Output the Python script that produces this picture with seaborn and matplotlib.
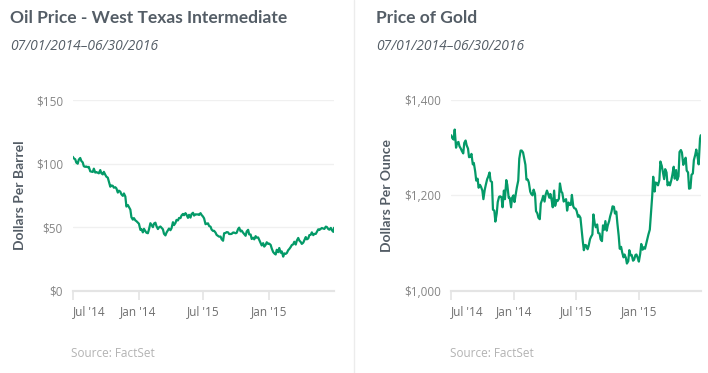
import pandas as pd
import seaborn as sns
import matplotlib.pyplot as plt
from matplotlib.lines import Line2D

# Friday closes plus first and last day of the window
fridays = pd.date_range('2014-07-04', '2016-06-24', freq='W-FRI')
fri_dates = [pd.Timestamp('2014-07-01')] + list(fridays) + [pd.Timestamp('2016-06-30')]
# Tuesday closes in between
tue_dates = list(pd.date_range('2014-07-08', '2016-06-28', freq='W-TUE'))

oil_fri = [
    105.4,
    104.1, 100.8, 103.1, 102.1,
    97.9, 97.7, 97.4, 93.7, 96.0,
    93.3, 92.3, 92.4, 93.5,
    89.7, 85.8, 82.8, 81.0, 80.5,
    78.7, 75.8, 76.5, 66.2,
    65.8, 57.8, 57.1, 54.7,
    52.7, 48.4, 48.7, 45.6, 48.2,
    51.7, 52.8, 50.8, 49.8,
    49.6, 44.8, 45.7, 48.9,
    49.1, 51.6, 55.7, 57.2,
    59.2, 59.4, 59.7, 59.7, 60.3,
    59.1, 60.0, 59.6, 59.6,
    56.9, 52.7, 50.9, 48.1, 47.1,
    43.9, 42.5, 40.5, 45.2,
    46.1, 44.6, 44.7, 45.7,
    45.5, 49.6, 47.3, 44.6, 46.6,
    44.3, 40.7, 40.4, 41.7,
    40.0, 35.6, 34.7, 38.1,
    37.0, 33.2, 29.4, 32.2, 33.6,
    30.9, 29.4, 29.6, 32.8,
    35.9, 38.5, 39.4, 39.5,
    36.8, 39.7, 40.4, 43.7, 45.9,
    44.7, 46.2, 47.8, 49.3,
    48.6, 50.1, 48.0, 47.6,
    49.5,
]

oil_tue = [
    103.4, 99.9, 104.4, 100.9,
    97.4, 97.1, 93.9, 93.4,
    92.9, 92.8, 94.9, 91.5,
    91.2, 88.9, 81.8, 82.5, 81.4,
    77.2, 77.9, 74.6, 74.1,
    67.4, 63.8, 55.9, 55.3, 53.6,
    47.9, 45.9, 46.8, 45.2,
    53.1, 50.0, 53.5, 48.5,
    50.5, 48.3, 43.5, 47.5, 47.6,
    53.9, 53.3, 55.3, 57.1,
    60.4, 61.0, 57.3, 57.5,
    61.3, 60.1, 60.0, 61.0, 58.3,
    52.3, 53.0, 50.4, 47.0,
    45.7, 43.1, 42.6, 39.3,
    45.4, 45.9, 44.6, 45.8, 45.2,
    48.5, 46.7, 45.6, 43.2,
    47.9, 44.2, 41.7, 42.9,
    41.9, 37.5, 37.4, 36.1, 36.8,
    36.0, 30.4, 28.5, 30.3,
    29.9, 26.8, 29.0, 31.9,
    34.4, 36.5, 36.3, 41.5, 38.3,
    37.8, 42.2, 41.1, 44.0,
    43.7, 44.7, 48.3, 48.6, 48.9,
    50.4, 48.5, 49.4, 46.3,
]

gold_fri = [
    1326,
    1320, 1338, 1310, 1303,
    1293, 1310, 1305, 1280, 1287,
    1268, 1231, 1216, 1218,
    1192, 1222, 1239, 1230, 1170,
    1145, 1186, 1198, 1175,
    1192, 1222, 1195, 1195,
    1186, 1217, 1277, 1294, 1279,
    1233, 1227, 1203, 1212,
    1167, 1153, 1183, 1199,
    1201, 1204, 1203, 1175,
    1178, 1188, 1225, 1205, 1190,
    1168, 1180, 1201, 1173,
    1167, 1158, 1131, 1085, 1095,
    1094, 1113, 1160, 1133,
    1121, 1108, 1137, 1146,
    1137, 1156, 1177, 1162, 1142,
    1088, 1081, 1076, 1057,
    1085, 1075, 1065, 1076,
    1061, 1098, 1091, 1097, 1118,
    1158, 1239, 1227, 1221,
    1271, 1250, 1255, 1221,
    1221, 1243, 1235, 1232, 1291,
    1290, 1272, 1252, 1214,
    1243, 1274, 1296, 1265,
    1326,
]

gold_tue = [
    1317, 1300, 1312, 1298,
    1288, 1315, 1298, 1281,
    1265, 1250, 1235, 1222,
    1210, 1212, 1234, 1248, 1228,
    1168, 1162, 1197, 1196,
    1210, 1232, 1195, 1175, 1200,
    1204, 1231, 1294, 1290,
    1264, 1233, 1208, 1200,
    1203, 1162, 1150, 1191, 1187,
    1210, 1195, 1189, 1210,
    1190, 1193, 1208, 1187,
    1192, 1185, 1180, 1177, 1172,
    1155, 1153, 1103, 1096,
    1087, 1108, 1118, 1140,
    1139, 1120, 1104, 1128, 1126,
    1146, 1166, 1176, 1166,
    1115, 1092, 1070, 1069,
    1062, 1074, 1063, 1075, 1068,
    1078, 1086, 1088, 1108,
    1128, 1198, 1208, 1225,
    1232, 1262, 1234, 1248, 1227,
    1232, 1260, 1253, 1240,
    1295, 1264, 1279, 1248, 1215,
    1246, 1285, 1280, 1319,
]

tick_dates = pd.to_datetime(['2014-07-01', '2015-01-01', '2015-07-01', '2016-01-01'])
tick_labels = ["Jul '14", "Jan '14", "Jul '15", "Jan '15"]


def series(fri, tue):
    df = pd.DataFrame({'date': fri_dates + tue_dates, 'price': fri + tue})
    return df.sort_values('date')


panels = [
    dict(title='Oil Price - West Texas Intermediate', df=series(oil_fri, oil_tue),
         ylabel='Dollars Per Barrel', yticks=[0, 50, 100, 150],
         ylabels=['$0', '$50', '$100', '$150'], ylim=(0, 150),
         rect=[0.1027, 0.2206, 0.3691, 0.5113], tx=0.014, lab_x=-0.179),
    dict(title='Price of Gold', df=series(gold_fri, gold_tue),
         ylabel='Dollars Per Ounce', yticks=[1000, 1200, 1400],
         ylabels=['$1,000', '$1,200', '$1,400'], ylim=(1000, 1400),
         rect=[0.6374, 0.2206, 0.3523, 0.5113], tx=0.531, lab_x=-0.234),
]

sns.set_style('white')
plt.rcParams['font.family'] = ['Open Sans', 'DejaVu Sans']

GREEN = '#049a68'
SLATE = '#545d66'

fig = plt.figure(figsize=(7.08, 3.73), dpi=100)
fig.add_artist(Line2D([0.5, 0.5], [0, 1], color='#ececec', lw=1,
                      transform=fig.transFigure))

for p in panels:
    ax = fig.add_axes(p['rect'])
    sns.lineplot(data=p['df'], x='date', y='price', ax=ax, color=GREEN, lw=1.6)

    ax.set_xlim(pd.Timestamp('2014-07-01'), pd.Timestamp('2016-06-30'))
    ax.set_ylim(*p['ylim'])
    ax.set_yticks(p['yticks'])
    ax.set_yticklabels(p['ylabels'])
    ax.set_xticks(tick_dates)
    ax.set_xticklabels(tick_labels)
    ax.get_xticklabels()[0].set_ha('left')
    ax.set_xlabel('')
    ax.set_ylabel(p['ylabel'], fontsize=10, fontweight='bold', color=SLATE,
                  family=['Lato', 'DejaVu Sans'])
    ax.yaxis.set_label_coords(p['lab_x'], 0.5)

    ax.grid(axis='y', color='#f0f0f0', lw=1)
    for s in ['top', 'right', 'left']:
        ax.spines[s].set_visible(False)
    ax.spines['bottom'].set_color('#e4e4e4')
    ax.spines['bottom'].set_linewidth(1.6)
    ax.tick_params(axis='y', length=0, pad=7, labelsize=8.5, labelcolor='#858585')
    ax.tick_params(axis='x', length=6.5, width=1.2, color='#e4e4e4', pad=4,
                   labelsize=8.5, labelcolor='#6f6f6f', bottom=True)

    fig.text(p['tx'], 0.952, p['title'], fontsize=12.5, fontweight='bold',
             color=SLATE, family=['Lato', 'DejaVu Sans'], va='center')
    fig.text(p['tx'], 0.876, '07/01/2014\u201306/30/2016', fontsize=10,
             style='italic', color=SLATE, va='center')
    fig.text(p['rect'][0] - 0.002, 0.053, 'Source: FactSet', fontsize=8.5,
             color='#b3b3b3', va='center')

fig.savefig('out.png', dpi=100)
